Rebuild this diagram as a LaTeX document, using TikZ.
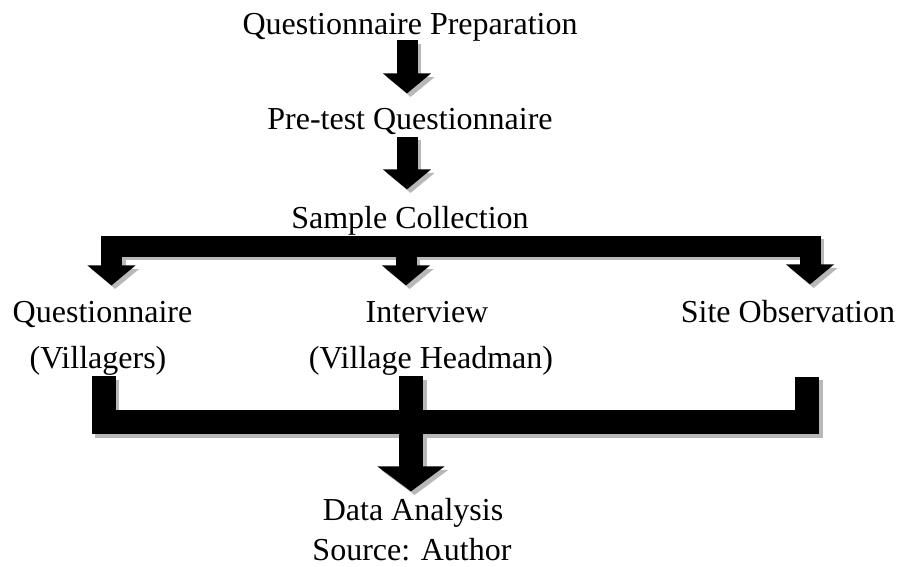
\documentclass[tikz,border=0pt]{standalone}
\usepackage{fontspec}
\setmainfont{Liberation Serif}
\usepackage{tikz}
\usetikzlibrary{arrows.meta, calc}
\definecolor{ShadowGrey}{HTML}{B8B8B8}
\definecolor{InkBlack}{HTML}{000000}

\begin{document}
\begin{tikzpicture}[
    x=0.5pt, y=-0.5pt,
    txt/.style={font=\fontsize{16}{19}\selectfont, inner sep=0pt, anchor=base},
    drop/.style={color=ShadowGrey, transform canvas={shift={(1.8pt,-1.8pt)}}},
    ink/.style={color=InkBlack},
    fat/.style={line width=10.5pt, line join=miter, -{Triangle[width=23.5pt,length=10pt]}},
    twin/.style={line width=10.5pt, line join=miter,
      {Triangle[width=23.5pt,length=10pt]}-{Triangle[width=23.5pt,length=10pt]}},
    joinbar/.style={line width=12pt, line join=miter},
    mainarrow/.style={joinbar, -{Triangle[width=33pt,length=12.5pt]}}
]
  \useasboundingbox (0,0) rectangle (900,567);

  % Steps
  \node[txt] (prep) at (410,35) {Questionnaire Preparation};
  \node[txt] (pretest) at (410,130) {Pre-test Questionnaire};
  \node[txt] (sample) at (410,228) {Sample Collection};
  \node[txt] (quest) at (102.5,322) {Questionnaire};
  \node[txt] (interv) at (427,322) {Interview};
  \node[txt] (site) at (788,322) {Site Observation};
  \node[txt] (vill) at (98,368) {(Villagers)};
  \node[txt] (head) at (431,368) {(Village Headman)};
  \node[txt] (data) at (413,520) {Data Analysis};
  \node[txt] (source) at (412,560) {Source: Author};

  % Branch and join points
  \coordinate (col) at (407,0);
  \coordinate (bl) at (111.5,246);
  \coordinate (bm) at (406,246);
  \coordinate (br) at (810,246);
  \coordinate (jl) at (103.5,422);
  \coordinate (jm) at (411,422);
  \coordinate (jr) at (807,422);

  % Shadow first, then the black arrows
  \foreach \lay in {drop, ink}{
    \draw[fat, \lay, shorten <=-1pt, shorten >=7.5pt] (prep.south -| col) -- (pretest.north -| col);
    \draw[fat, \lay, shorten <=0.5pt, shorten >=8pt] (pretest.south -| col) -- (sample.north -| col);
    \draw[twin, \lay, shorten <=7.5pt, shorten >=7.5pt] (quest.north -| bl) -- (bl) -- (br) -- (site.north -| br);
    \draw[fat, \lay, shorten >=7.5pt] (bm) -- (interv.north -| bm);
    \draw[joinbar, \lay, shorten <=0.5pt] (vill.south -| jl) -- (jl) -- (jm);
    \draw[joinbar, \lay, shorten <=27pt] (site.south -| jr) -- (jr) -- (jm);
    \draw[mainarrow, \lay, shorten <=0.5pt, shorten >=3pt] (head.south -| jm) -- (jm) -- (data.north -| jm);
  }
\end{tikzpicture}
\end{document}
